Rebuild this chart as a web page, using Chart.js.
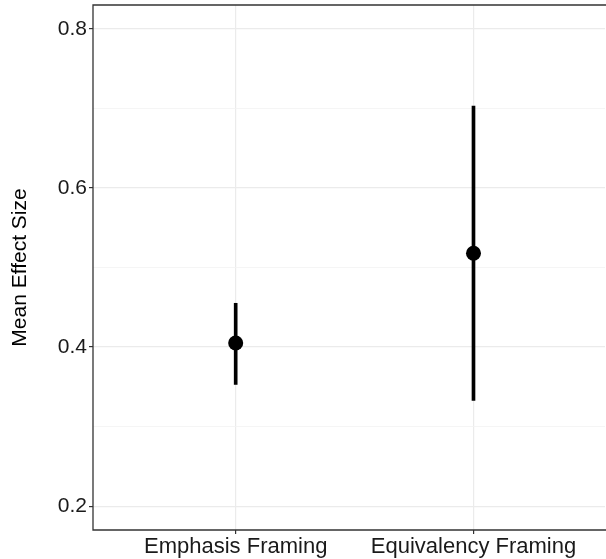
<!DOCTYPE html>
<html>
<head>
<meta charset="utf-8">
<script src="https://cdn.jsdelivr.net/npm/chart.js@4/dist/chart.umd.min.js"></script>
<style>
  body { margin: 0; background: #fff; }
  canvas { display: block; }
</style>
</head>
<body>
<canvas id="effectChart" width="606" height="559"></canvas>
<script>
// Data
const categories = ['Emphasis Framing', 'Equivalency Framing'];
const means = [0.405, 0.518];
const lower = [0.353, 0.333];
const upper = [0.455, 0.703];
const yTicks = [0.2, 0.3, 0.4, 0.5, 0.6, 0.7, 0.8];
const yLabelled = [0.2, 0.4, 0.6, 0.8];

const isLabelled = (v) => yLabelled.some((t) => Math.abs(t - v) < 1e-9);

// panel border (top, left, bottom; the right side is cropped off in the original)
const panelBorder = {
    id: 'panelBorder',
    afterDraw(chart) {
        const { ctx, chartArea: a } = chart;
        ctx.save();
        ctx.strokeStyle = '#333';
        ctx.lineWidth = 1.3;
        ctx.beginPath();
        ctx.moveTo(chart.width, a.top);
        ctx.lineTo(a.left, a.top);
        ctx.lineTo(a.left, a.bottom);
        ctx.lineTo(chart.width, a.bottom);
        ctx.stroke();
        ctx.restore();
    },
};

new Chart(document.getElementById('effectChart').getContext('2d'), {
    type: 'scatter',
    data: {
        datasets: [
            {
                label: 'Mean',
                data: means.map((m, i) => ({ x: i + 1, y: m })),
                backgroundColor: '#000',
                borderWidth: 0,
                pointRadius: 7.5,
                pointHoverRadius: 7.5,
            },
            {
                type: 'bar',
                label: 'Interval',
                data: lower.map((lo, i) => ({ x: i + 1, y: [lo, upper[i]] })),
                backgroundColor: '#000',
                borderWidth: 0,
                barThickness: 3,
                grouped: false,
            },
        ],
    },
    options: {
        responsive: false,
        animation: false,
        layout: { autoPadding: false, padding: { left: 0, top: 5, right: 1, bottom: 0 } },
        plugins: {
            legend: { display: false },
            tooltip: { enabled: false },
        },
        scales: {
            x: {
                type: 'linear',
                min: 0.4,
                max: 2.553,
                offset: false,
                afterBuildTicks: (s) => { s.ticks = categories.map((c, i) => ({ value: i + 1 })); },
                afterFit: (s) => { s.height = 29; s.paddingLeft = 0; s.paddingRight = 0; },
                border: { display: false },
                grid: {
                    offset: false,
                    color: '#ebebeb',
                    lineWidth: 1.2,
                    tickLength: 4,
                    tickColor: '#333',
                },
                ticks: {
                    autoSkip: false,
                    maxRotation: 0,
                    padding: 0,
                    color: '#1a1a1a',
                    font: { family: 'Liberation Sans, Arial, sans-serif', size: 22 },
                    callback: (v, i) => categories[i],
                },
            },
            y: {
                type: 'linear',
                min: 0.17,
                max: 0.83,
                afterBuildTicks: (s) => { s.ticks = yTicks.map((v) => ({ value: v })); },
                afterFit: (s) => { s.width = 93; s.paddingTop = 0; s.paddingBottom = 0; },
                border: { display: false },
                grid: {
                    color: (c) => (isLabelled(c.tick.value) ? '#ebebeb' : '#f2f2f2'),
                    lineWidth: (c) => (isLabelled(c.tick.value) ? 1.2 : 0.8),
                    tickLength: 4,
                    tickColor: (c) => (isLabelled(c.tick.value) ? '#333' : 'rgba(0,0,0,0)'),
                },
                ticks: {
                    padding: 2,
                    color: '#1a1a1a',
                    font: { family: 'Liberation Sans, Arial, sans-serif', size: 21 },
                    callback: (v) => (isLabelled(v) ? v.toFixed(1) : ''),
                },
                title: {
                    display: true,
                    text: 'Mean Effect Size',
                    color: '#000',
                    padding: { top: 8, bottom: 0 },
                    font: { family: 'Liberation Sans, Arial, sans-serif', size: 21 },
                },
            },
        },
    },
    plugins: [panelBorder],
});
</script>
</body>
</html>
